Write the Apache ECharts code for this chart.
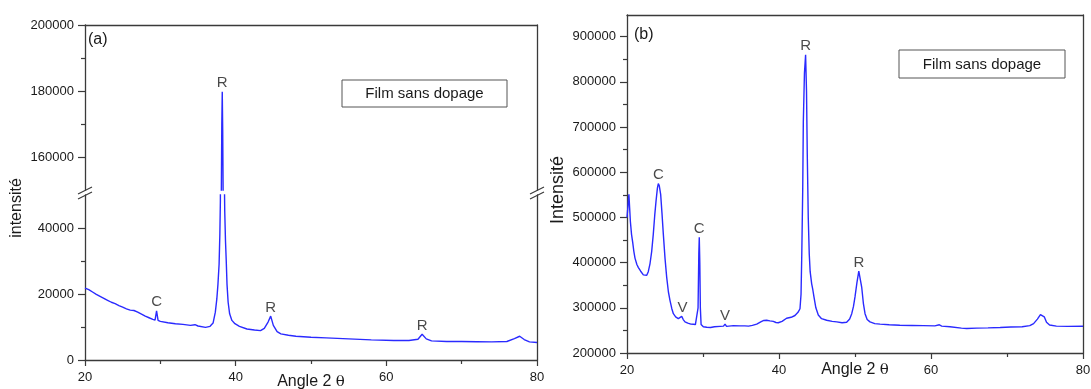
<!DOCTYPE html>
<html><head><meta charset="utf-8">
<script src="https://cdn.jsdelivr.net/npm/echarts@6/dist/echarts.min.js"></script>
<style>html,body{margin:0;padding:0;background:#fff}#c{width:1091px;height:389px}</style>
</head><body><div id="c"></div>
<script>
// ---------- Panel (a) : Film sans dopage ----------
const anglesA = [20.0,20.5,21.0,21.5,22.0,22.5,23.0,23.5,24.0,24.5,25.0,25.5,26.0,26.5,27.0,27.5,28.0,28.5,29.0,29.3,29.5,29.7,30.0,31.0,32.0,33.0,34.0,34.6,35.0,36.0,36.6,37.0,37.3,37.5,37.65,37.8,37.9,37.97,38.05,38.1,38.16,38.22,38.28,38.34,38.4,38.47,38.55,38.65,38.75,38.85,39.0,39.2,39.5,39.9,40.5,41.5,42.5,43.3,43.8,44.3,44.65,45.0,45.5,46.0,47.0,48.0,50.0,52.0,55.0,58.0,61.0,63.0,64.2,64.75,65.3,66.0,68.0,70.0,72.0,74.0,76.0,77.0,77.7,78.3,79.0,80.0];
const intensA = [21800,21300,20600,19900,19300,18700,18100,17500,17100,16500,16000,15500,15100,15000,14500,13900,13300,12800,12300,12100,14900,12000,11700,11300,11000,10800,10500,10700,10300,9900,10200,11200,14500,18500,23000,29000,38000,48000,100000,150000,170000,179800,168000,148000,100000,60000,45000,36000,30000,23000,17500,14000,12000,11000,10200,9400,9100,8900,9600,11500,13300,10500,8600,7900,7500,7200,6900,6700,6400,6100,5900,5900,6300,7800,6400,5800,5600,5600,5550,5500,5600,6500,7200,6200,5500,5300];
const peakNamesA = ['R','C','R','R'];
const peakAnglesA = [38.22,29.5,44.65,64.75];
const peakIntensA = [179800,14900,13300,7800];

// ---------- Panel (b) : Film sans dopage ----------
const anglesB = [20.0,20.15,20.25,20.35,20.45,20.6,20.75,20.9,21.05,21.3,21.5,21.8,22.15,22.4,22.6,22.8,23.03,23.25,23.46,23.65,23.82,24.0,24.12,24.25,24.43,24.6,24.78,25.0,25.22,25.45,25.66,25.9,26.1,26.4,26.75,27.0,27.2,27.4,27.63,28.0,28.4,28.72,29.0,29.25,29.35,29.45,29.51,29.58,29.65,29.75,30.04,30.5,31.0,31.5,32.24,32.7,32.9,33.1,33.3,34.0,34.87,35.5,36.0,36.5,37.07,37.6,38.0,38.38,38.8,39.25,39.6,39.9,40.4,41.0,41.6,42.1,42.5,42.76,42.9,43.0,43.12,43.2,43.35,43.5,43.62,43.72,43.85,43.98,44.1,44.3,44.45,44.6,44.85,45.17,45.6,46.27,47.0,47.6,48.3,48.9,49.3,49.57,49.8,50.0,50.25,50.5,50.65,50.88,51.1,51.32,51.6,51.97,52.6,53.3,54.5,55.9,57.5,59.0,60.5,61.1,61.4,62.5,64.0,64.7,66.0,67.5,69.1,70.5,72.0,73.0,73.5,74.0,74.4,74.6,74.9,75.2,75.6,76.5,78.0,80.0];
const intensB = [500000,530000,551000,520000,490000,462000,445000,425000,410000,396000,389000,381000,373000,371000,372000,380000,398000,425000,463000,505000,536000,565000,575000,570000,551000,510000,463000,410000,368000,335000,316000,298000,287000,280000,276000,277000,281000,274000,269000,266000,264000,263500,263000,265000,300000,420000,456000,400000,300000,263000,258000,257000,256500,258000,259000,259500,264000,259000,259000,260500,260000,260000,259500,261000,264000,269000,272000,272500,271000,270000,267500,267000,270000,277000,279000,283000,290000,298000,330000,420000,560000,712000,820000,860000,780000,640000,500000,419000,380000,353000,340000,324000,300000,284000,276000,272500,270000,268800,267000,268000,275000,287000,303000,324000,355000,381000,378000,346000,310000,287000,274000,268800,265000,264000,262500,261500,261000,260500,260000,262500,259500,258000,255000,254300,255000,255500,256500,257500,258000,260500,265000,275000,285000,287300,280000,268000,262000,259500,259000,259300];
const peakNamesB = ['C','V','C','V','R','R'];
const peakAnglesB = [24.12,27.3,29.51,32.9,43.5,50.5];
const peakIntensB = [575000,281000,456000,264000,860000,381000];

// ---------- Ticks ----------
const xMajor = [20,40,60,80];
const xMinor = [30,50,70];
const yUpperMajorA = [160000,180000,200000];
const yUpperMinorA = [170000,190000];
const yLowerMajorA = [0,20000,40000];
const yLowerMinorA = [10000,30000];
const yMajorB = [200000,300000,400000,500000,600000,700000,800000,900000];
const yMinorB = [250000,350000,450000,550000,650000,750000,850000];

const FONT = "'Liberation Sans', Arial, sans-serif";
const AX = '#3a3a3a';
const BLUE = '#2a2aff';
const TXT = '#1a1a1a';

const pairsA = anglesA.map((a,i)=>[a,intensA[i]]);
const pairsB = anglesB.map((a,i)=>[a,intensB[i]]);
const lblA = peakNamesA.map((n,i)=>[peakAnglesA[i],peakIntensA[i],n]);
const lblB = peakNamesB.map((n,i)=>[peakAnglesB[i],peakIntensB[i],n]);

const axLine = {show:true, onZero:false, lineStyle:{color:AX, width:1.3}};
const noLine = {show:false};
function tickStyle(vals,len){return {show:true, inside:false, length:len, customValues:vals, lineStyle:{color:AX, width:1.2}};}
function lbl(vals){return {show:true, customValues:vals, fontSize:13, color:TXT, fontFamily:FONT, formatter:v=>String(v)};}
const off = {show:false};

const grids = [
  {left:85, top:25, width:452, height:165, outerBoundsMode:'none', containLabel:false},
  {left:85, top:195, width:452, height:165, outerBoundsMode:'none', containLabel:false},
  {left:627, top:15, width:456, height:338, outerBoundsMode:'none', containLabel:false}
];

const nameStyle = {fontSize:16, color:TXT, fontFamily:FONT, verticalAlign:'top', rich:{t:{fontSize:15, fontFamily:"'DejaVu Serif', serif", color:TXT}}};

const xAxis = [
  {gridIndex:0, type:'value', min:20, max:80, position:'top', axisLine:axLine, axisTick:off, axisLabel:off, splitLine:off},
  {gridIndex:1, type:'value', min:20, max:80, position:'bottom', axisLine:axLine, axisTick:tickStyle(xMajor,6), axisLabel:Object.assign(lbl(xMajor),{margin:11}), splitLine:off,
   name:'Angle 2 {t|θ}', nameLocation:'middle', nameGap:14, nameMoveOverlap:false, nameTextStyle:nameStyle},
  {gridIndex:1, type:'value', min:20, max:80, position:'bottom', axisLine:noLine, axisTick:tickStyle(xMinor,4), axisLabel:off, splitLine:off},
  {gridIndex:2, type:'value', min:20, max:80, position:'bottom', axisLine:axLine, axisTick:tickStyle(xMajor,6), axisLabel:Object.assign(lbl(xMajor),{margin:11}), splitLine:off,
   name:'Angle 2 {t|θ}', nameLocation:'middle', nameGap:9, nameMoveOverlap:false, nameTextStyle:nameStyle},
  {gridIndex:2, type:'value', min:20, max:80, position:'bottom', axisLine:noLine, axisTick:tickStyle(xMinor,4), axisLabel:off, splitLine:off},
  {gridIndex:2, type:'value', min:20, max:80, position:'top', axisLine:axLine, axisTick:off, axisLabel:off, splitLine:off}
];

const yAxis = [
  {gridIndex:0, type:'value', min:150000, max:200000, position:'left', axisLine:axLine, axisTick:tickStyle(yUpperMajorA,7), axisLabel:Object.assign(lbl(yUpperMajorA),{margin:11}), splitLine:off},
  {gridIndex:0, type:'value', min:150000, max:200000, position:'left', axisLine:noLine, axisTick:tickStyle(yUpperMinorA,4), axisLabel:off, splitLine:off},
  {gridIndex:0, type:'value', min:0, max:1, position:'right', axisLine:axLine, axisTick:off, axisLabel:off, splitLine:off},
  {gridIndex:1, type:'value', min:0, max:50000, position:'left', axisLine:axLine, axisTick:tickStyle(yLowerMajorA,7), axisLabel:Object.assign(lbl(yLowerMajorA),{margin:11}), splitLine:off},
  {gridIndex:1, type:'value', min:0, max:50000, position:'left', axisLine:noLine, axisTick:tickStyle(yLowerMinorA,4), axisLabel:off, splitLine:off},
  {gridIndex:1, type:'value', min:0, max:1, position:'right', axisLine:axLine, axisTick:off, axisLabel:off, splitLine:off},
  {gridIndex:2, type:'value', min:200000, max:948000, position:'left', axisLine:axLine, axisTick:tickStyle(yMajorB,7), axisLabel:Object.assign(lbl(yMajorB),{margin:11}), splitLine:off},
  {gridIndex:2, type:'value', min:200000, max:948000, position:'left', axisLine:noLine, axisTick:tickStyle(yMinorB,4), axisLabel:off, splitLine:off},
  {gridIndex:2, type:'value', min:0, max:1, position:'right', axisLine:axLine, axisTick:off, axisLabel:off, splitLine:off}
];

const lineStyle = {color:BLUE, width:1.4};
const labelSeries = (data, xi, yi) => ({
  type:'scatter', xAxisIndex:xi, yAxisIndex:yi, data:data, symbolSize:0, silent:true,
  label:{show:true, position:'top', distance:1, formatter:p=>p.data[2], fontSize:15, color:TXT, fontFamily:FONT}
});

const series = [
  {type:'line', xAxisIndex:0, yAxisIndex:0, data:pairsA, showSymbol:false, lineStyle:lineStyle, clip:true, silent:true},
  {type:'line', xAxisIndex:1, yAxisIndex:3, data:pairsA, showSymbol:false, lineStyle:lineStyle, clip:true, silent:true},
  labelSeries(lblA.filter(d=>d[1]>=150000), 0, 0),
  labelSeries(lblA.filter(d=>d[1]<50000), 1, 3),
  {type:'line', xAxisIndex:3, yAxisIndex:6, data:pairsB, showSymbol:false, lineStyle:lineStyle, clip:true, silent:true},
  labelSeries(lblB, 3, 6)
];

function brk(x, y){
  return [
    {type:'line', shape:{x1:x-7,y1:y+1,x2:x+7,y2:y-6}, style:{stroke:AX, lineWidth:1.2}},
    {type:'line', shape:{x1:x-7,y1:y+6,x2:x+7,y2:y-1}, style:{stroke:AX, lineWidth:1.2}}
  ];
}

const graphic = [
  {type:'rect', shape:{x:342, y:80, width:165, height:27}, style:{fill:'#fff', stroke:'#555', lineWidth:1}},
  {type:'text', x:424.5, y:94, style:{text:'Film sans dopage', font:"15px "+FONT, fill:TXT, align:'center', verticalAlign:'middle'}},
  {type:'rect', shape:{x:899, y:50, width:166, height:28}, style:{fill:'#fff', stroke:'#555', lineWidth:1}},
  {type:'text', x:982, y:64.5, style:{text:'Film sans dopage', font:"15px "+FONT, fill:TXT, align:'center', verticalAlign:'middle'}},
  {type:'text', x:88, y:40, style:{text:'(a)', font:"16px "+FONT, fill:TXT, align:'left', verticalAlign:'middle'}},
  {type:'text', x:634, y:35, style:{text:'(b)', font:"16px "+FONT, fill:TXT, align:'left', verticalAlign:'middle'}},
  {type:'text', x:17, y:208, rotation:Math.PI/2, style:{text:'intensité', font:"16px "+FONT, fill:TXT, align:'center', verticalAlign:'middle'}},
  {type:'text', x:558, y:190, rotation:Math.PI/2, style:{text:'Intensité', font:"18px "+FONT, fill:TXT, align:'center', verticalAlign:'middle'}}
].concat(brk(85,193), brk(537,193));

const chart = echarts.init(document.getElementById('c'), null, {renderer:'canvas'});
chart.setOption({
  animation:false,
  backgroundColor:'#fff',
  textStyle:{fontFamily:FONT},
  grid:grids, xAxis:xAxis, yAxis:yAxis, series:series, graphic:graphic
});
</script>
</body></html>
